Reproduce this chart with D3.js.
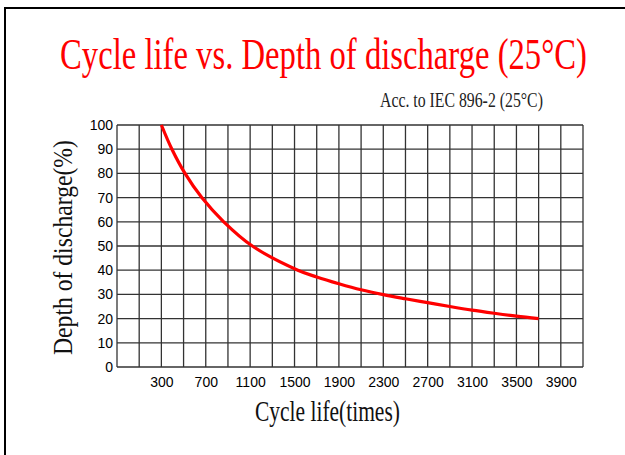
<!DOCTYPE html>
<html><head><meta charset="utf-8">
<script src="https://cdn.jsdelivr.net/npm/d3@7"></script>
<style>body{margin:0;background:#fff;}svg{display:block;}</style>
</head><body>
<script>
const cycles = [300, 395, 513, 664, 862, 1120, 1530, 1700, 1900, 2100, 2300, 2500, 2700, 2900, 3100, 3300, 3500, 3700];
const depth  = [100, 90, 80, 70, 60, 50, 40, 37.2, 34.4, 31.9, 29.9, 28.2, 26.6, 25.0, 23.5, 22.2, 21.0, 20];
const xTickLabels = [300, 700, 1100, 1500, 1900, 2300, 2700, 3100, 3500, 3900];
const yTickLabels = [0, 10, 20, 30, 40, 50, 60, 70, 80, 90, 100];
const xGrid = d3.range(-100, 4101, 200);
const title = "Cycle life vs. Depth of discharge (25°C)";
const subtitle = "Acc. to IEC 896-2 (25°C)";
const xLabel = "Cycle life(times)";
const yLabel = "Depth of discharge(%)";

const W = 625, H = 455;
const SERIF = "'Liberation Serif','DejaVu Serif',serif";
const SANS = "'Liberation Sans','DejaVu Sans',sans-serif";
const svg = d3.select("body").append("svg").attr("width", W).attr("height", H);
svg.append("rect").attr("width", W).attr("height", H).attr("fill", "#fff");

// frame
svg.append("path").attr("d", `M5,${H} L5,8 L${W},8`).attr("fill", "none").attr("stroke", "#000").attr("stroke-width", 2);

const x = d3.scaleLinear().domain([-100, 4100]).range([117, 583]);
const y = d3.scaleLinear().domain([0, 100]).range([367, 125]);

const g = svg.append("g");
g.selectAll(".vg").data(xGrid).join("line")
  .attr("x1", d => x(d)).attr("x2", d => x(d)).attr("y1", y(0)).attr("y2", y(100))
  .attr("stroke", "#333").attr("stroke-width", 1.3);
g.selectAll(".hg").data(yTickLabels).join("line")
  .attr("x1", x(-100)).attr("x2", x(4100)).attr("y1", d => y(d)).attr("y2", d => y(d))
  .attr("stroke", "#333").attr("stroke-width", 1.3);

const yAxis = d3.axisLeft(y).tickValues(yTickLabels).tickSize(0).tickPadding(4).tickFormat(d3.format("d"));
const ya = svg.append("g").attr("transform", `translate(${x(-100)},0)`).call(yAxis);
ya.select(".domain").remove();
ya.selectAll("text").attr("font-family", SANS).attr("font-size", 14).attr("fill", "#000");

const xAxis = d3.axisBottom(x).tickValues(xTickLabels).tickSize(0).tickPadding(10).tickFormat(d3.format("d"));
const xa = svg.append("g").attr("transform", `translate(0,${y(0)})`).call(xAxis);
xa.select(".domain").remove();
xa.selectAll("text").attr("font-family", SANS).attr("font-size", 14).attr("fill", "#000");

const pts = cycles.map((c, i) => [c, depth[i]]);
svg.append("path").datum(pts)
  .attr("d", d3.line().x(d => x(d[0])).y(d => y(d[1])).curve(d3.curveCatmullRom.alpha(0.5)))
  .attr("fill", "none").attr("stroke", "#ff0000").attr("stroke-width", 3.2);

// fitted text: scale horizontally to target width
function fitText(str, tx, ty, rot, width, size, font, color) {
  const t = svg.append("text").attr("font-family", font).attr("font-size", size).attr("fill", color).text(str);
  const nat = t.node().getComputedTextLength();
  const sx = width / nat;
  t.attr("transform", `translate(${tx},${ty}) rotate(${rot}) scale(${sx},1)`);
  return t;
}
fitText(title, 60, 69, 0, 527, 44, SERIF, "#ff0000");
fitText(subtitle, 380, 107, 0, 163, 22, SERIF, "#222");
fitText(xLabel, 255, 421, 0, 145, 30, SERIF, "#111");
fitText(yLabel, 72, 355, -90, 215, 28, SERIF, "#111");
</script>
</body></html>
